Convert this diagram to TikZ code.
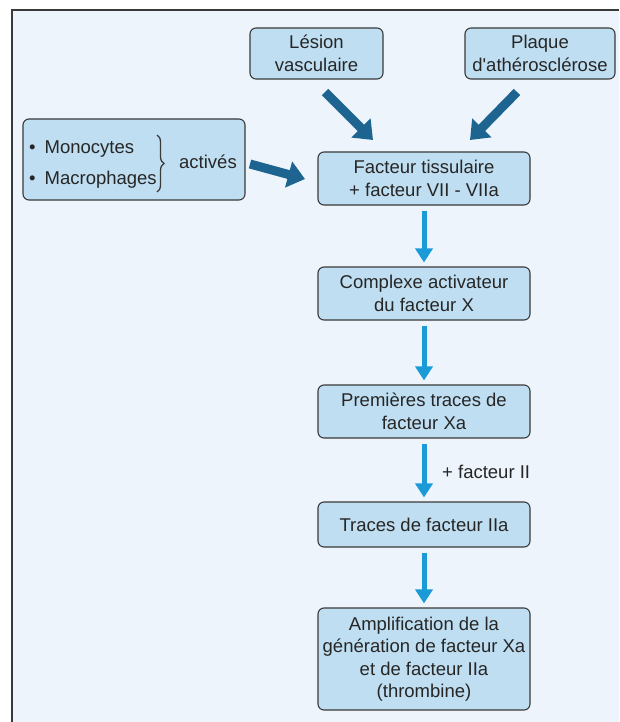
\documentclass[tikz,border=0pt]{standalone}
\usepackage{fontspec}
\setmainfont{Liberation Sans}[Ligatures=TeXOff]
\usetikzlibrary{arrows.meta,decorations.pathreplacing,positioning}
\definecolor{fond}{HTML}{EDF4FB}
\definecolor{boite}{HTML}{BFDEF1}
\definecolor{trait}{HTML}{3A3A3A}
\definecolor{fleche}{HTML}{1D6590}
\definecolor{flechec}{HTML}{1A9AD7}
\definecolor{texte}{HTML}{262626}
\tikzset{bx/.style={draw=trait,fill=boite,rounded corners=6pt,line width=1.1pt,align=center,inner sep=2pt,text=texte,font=\fontsize{18.5}{22.5}\selectfont,minimum width=212pt,minimum height=53pt},
txt/.style={inner sep=0pt,text=texte,font=\fontsize{18.5}{22.5}\selectfont},
gf/.style={line width=9pt,draw=fleche,-{Triangle[length=17pt,width=26pt]}},
pf/.style={line width=5pt,draw=flechec,-{Triangle[length=14pt,width=17pt]},shorten <=5pt,shorten >=4pt}}

\begin{document}
\begin{tikzpicture}[x=1pt,y=-1pt,accolade/.style={draw=trait,line width=1.3pt,decorate,decoration={brace,amplitude=7pt,aspect=0.5}},cadre/.style={draw=trait,line width=2pt}]
			\useasboundingbox (0,0) rectangle (619,722);
			\fill[fond] (12,10) rectangle (619,722);
			\draw[cadre] (12,722) -- (12,10) -- (619,10);

			\node[bx,minimum width=133pt,minimum height=51pt] (lesion) at (316.5,53.5) {Lésion\\vasculaire};
			\node[bx,minimum width=150pt,minimum height=51pt] (plaque) at (540,53.5) {Plaque\\d'athérosclérose};

			\node[bx,minimum width=222pt,minimum height=81pt] (cellules) at (134,159.5) {};
			\node[txt,anchor=base west] (mono) at (29,154) {\textbullet\hspace{9pt}Monocytes};
			\node[txt,anchor=base west] (macro) at (29,185) {\textbullet\hspace{9pt}Macrophages};
			\node[txt,anchor=base west] (actives) at (179,169) {activés};
			\draw[accolade] (157,135) -- (157,192);

			\node[bx] (tissu) at (424,178.5) {Facteur tissulaire\\+ facteur VII - VIIa};
			\node[bx] (complexe) at (424,293.5) {Complexe activateur\\du facteur X};
			\node[bx] (premieres) at (424,411.5) {Premières traces de\\facteur Xa};
			\node[bx,minimum height=45pt] (traces) at (424,524.5) {Traces de facteur IIa};
			\node[bx,minimum height=102pt] (ampli) at (424,659) {Amplification de la\\génération de facteur Xa\\et de facteur IIa\\(thrombine)};

			\coordinate (l1) at (325,92);
			\coordinate (l2) at (373,140);
			\coordinate (p1) at (517,92);
			\coordinate (p2) at (470,140);
			\coordinate (c1) at (250,164);
			\coordinate (c2) at (305,179);
			\draw[gf] (l1) -- (l2);
			\draw[gf] (p1) -- (p2);
			\draw[gf] (c1) -- (c2);

			\draw[pf] (tissu) -- (complexe);
			\draw[pf] (complexe) -- (premieres);
			\draw[pf] (premieres) -- (traces);
			\draw[pf] (traces) -- (ampli);
			\node[txt,anchor=west] (facII) at (442,472) {+ facteur II};
		\end{tikzpicture}
\end{document}
